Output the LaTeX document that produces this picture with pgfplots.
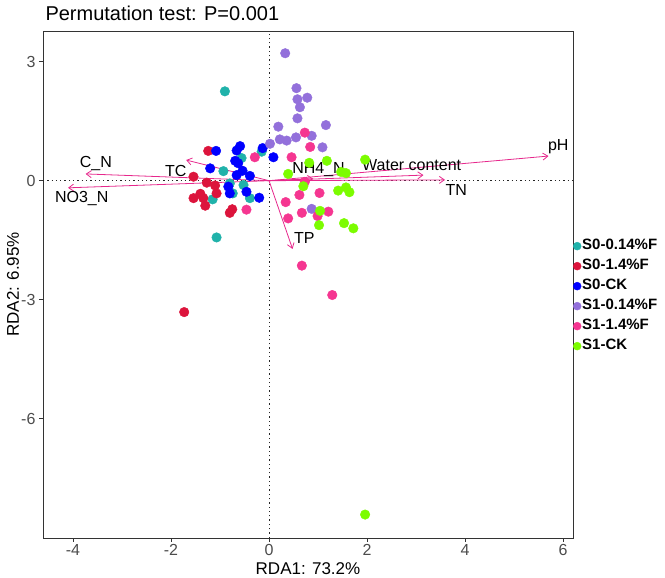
\documentclass[border=0pt]{standalone}
\usepackage{pgfplots}
\pgfplotsset{compat=1.18}
\usepackage{fontspec}
\setmainfont{Liberation Sans}
\usetikzlibrary{arrows.meta}
\definecolor{cteal}{RGB}{32,178,170}
\definecolor{cred}{RGB}{220,20,60}
\definecolor{cblue}{RGB}{0,0,255}
\definecolor{cpurple}{RGB}{147,112,219}
\definecolor{cpink}{RGB}{245,54,145}
\definecolor{cgreen}{RGB}{124,252,0}
\definecolor{carrow}{RGB}{230,40,140}
\begin{document}
\begin{tikzpicture}[x=1pt,y=1pt]
\path[use as bounding box] (0,0) rectangle (665,578);
\node[anchor=base west, font=\fontsize{20}{20}\selectfont] at (42,557) {Permutation test: P=0.001};
\begin{axis}[
  at={(43pt,40pt)}, anchor=south west,
  scale only axis, width=530pt, height=507pt,
  xmin=-4.61, xmax=6.2, ymin=-9.0, ymax=3.77,
  xtick={-4,-2,0,2,4,6}, ytick={-6,-3,0,3},
  tick align=outside, tick pos=left, major tick length=4pt,
  tick style={color=black!80, line width=0.8pt},
  axis line style={black!80, line width=0.8pt},
  ticklabel style={font=\fontsize{16}{16}\selectfont, text=black!70},
  xticklabel style={yshift=1.5pt},
  /pgf/number format/assume math mode=true,
  xlabel={RDA1: 73.2\%}, ylabel={RDA2: 6.95\%},
  label style={font=\fontsize{17}{17}\selectfont},
  xlabel style={at={(axis description cs:0.5,0)}, anchor=center, yshift=-30.5pt},
  ylabel style={at={(axis description cs:0,0.5)}, anchor=center, yshift=30pt},
  legend style={at={(axis description cs:1,0.477)}, anchor=west, draw=none, fill=none,
    font=\bfseries\fontsize{15}{15}\selectfont, row sep=4.5pt, inner sep=0pt,
    nodes={inner sep=1pt, text height=10.5pt, text depth=3pt}},
  legend cell align=left,
  legend image code/.code={\draw[#1, mark size=4pt] plot coordinates {(0pt,0pt)};},
  clip=true,
]
\addplot[forget plot, black!85, line width=0.9pt, dash pattern=on 1.3pt off 3pt] coordinates {(0,-9.0) (0,3.77)};
\addplot[forget plot, black!85, line width=0.9pt, dash pattern=on 1.3pt off 3pt] coordinates {(-4.61,0) (6.2,0)};
% S0-0.14%F
\addplot[only marks, mark=*, mark size=4.8pt, cteal, mark options={draw=cteal, fill=cteal}] coordinates {
(-0.90,2.25) (-0.56,0.57) (-0.15,0.73) (-0.93,0.24) (-0.80,-0.07) (-0.52,-0.11)
(-0.74,-0.32) (-0.39,-0.44) (-1.15,-0.47) (-1.07,-1.43)};
\addlegendentry{S0-0.14\%F}
% S0-1.4%F
\addplot[only marks, mark=*, mark size=4.8pt, cred, mark options={draw=cred, fill=cred}] coordinates {
(-1.24,0.75) (-1.54,0.10) (-1.27,-0.05) (-1.10,-0.12) (-1.07,-0.32) (-1.54,-0.44)
(-1.34,-0.44) (-1.40,-0.33) (-1.30,-0.63) (-0.80,-0.81) (-0.75,-0.72) (-1.73,-3.31)};
\addlegendentry{S0-1.4\%F}
% S0-CK
\addplot[only marks, mark=*, mark size=4.8pt, cblue, mark options={draw=cblue, fill=cblue}] coordinates {
(-1.08,0.75) (-0.59,0.87) (-0.66,0.76) (-0.69,0.50) (-0.63,0.44) (-0.13,0.82)
(0.09,0.59) (-1.20,0.31) (-0.54,0.25) (-0.39,0.12) (-0.66,0.14) (-0.83,-0.15)
(-0.80,-0.32) (-0.46,-0.28) (-0.20,-0.43)};
\addlegendentry{S0-CK}
% S1-0.14%F
\addplot[only marks, mark=*, mark size=4.8pt, cpurple, mark options={draw=cpurple, fill=cpurple}] coordinates {
(0.33,3.21) (0.56,2.33) (0.58,2.05) (0.78,2.09) (0.63,1.85) (0.58,1.57) (0.19,1.36)
(1.16,1.40) (0.22,1.04) (0.36,1.01) (0.55,1.09) (0.87,1.13) (1.09,0.84) (0.02,0.93)
(0.87,-0.71)};
\addlegendentry{S1-0.14\%F}
% S1-1.4%F
\addplot[only marks, mark=*, mark size=4.8pt, cpink, mark options={draw=cpink, fill=cpink}] coordinates {
(-0.29,0.59) (0.73,1.21) (0.84,0.85) (0.46,0.59) (0.73,-0.03) (0.62,-0.36)
(1.03,-0.31) (0.34,-0.54) (1.21,-0.78) (0.67,-0.81) (0.39,-0.95) (0.99,-0.89)
(0.67,-2.14) (1.29,-2.88) (-0.46,-0.73)};
\addlegendentry{S1-1.4\%F}
% S1-CK
\addplot[only marks, mark=*, mark size=4.8pt, cgreen, mark options={draw=cgreen, fill=cgreen}] coordinates {
(1.18,0.50) (0.82,0.45) (0.39,0.17) (1.47,0.22) (1.57,0.19) (0.70,-0.14)
(1.41,-0.25) (1.57,-0.17) (1.64,-0.29) (1.04,-0.76) (1.02,-1.12) (1.53,-1.07)
(1.72,-1.20) (1.96,-8.41) (1.96,0.53)};
\addlegendentry{S1-CK}
% arrows
\pgfplotsset{every axis plot/.append style={forget plot}}
\addplot[carrow, line width=0.8pt, -{Straight Barb[length=5pt,width=7pt]}] coordinates {(0,0) (-3.74,0.17)};
\addplot[carrow, line width=0.8pt, -{Straight Barb[length=5pt,width=7pt]}] coordinates {(0,0) (-4.10,-0.18)};
\addplot[carrow, line width=0.8pt, -{Straight Barb[length=5pt,width=7pt]}] coordinates {(0,0) (-1.69,0.52)};
\addplot[carrow, line width=0.8pt, -{Straight Barb[length=5pt,width=7pt]}] coordinates {(0,0) (0.48,-1.72)};
\addplot[carrow, line width=0.8pt, -{Straight Barb[length=5pt,width=7pt]}] coordinates {(0,0) (5.70,0.62)};
\addplot[carrow, line width=0.8pt, -{Straight Barb[length=5pt,width=7pt]}] coordinates {(0,0) (3.15,0.14)};
\addplot[carrow, line width=0.8pt, -{Straight Barb[length=5pt,width=7pt]}] coordinates {(0,0) (3.59,0.02)};
\addplot[carrow, line width=0.8pt, -{Straight Barb[length=5pt,width=7pt]}] coordinates {(0,0) (0.90,0.05)};
\begin{scope}[every node/.style={font=\fontsize{16}{16}\selectfont, text=black, inner sep=0pt}]
\node at (axis cs:-3.53,0.42) {C\_N};
\node at (axis cs:-3.82,-0.46) {NO3\_N};
\node at (axis cs:-1.90,0.25) {TC};
\node at (axis cs:0.72,-1.45) {TP};
\node at (axis cs:5.90,0.86) {pH};
\node at (axis cs:2.91,0.40) {Water content};
\node at (axis cs:3.82,-0.23) {TN};
\node at (axis cs:1.01,0.27) {NH4\_N};
\end{scope}
\end{axis}
\end{tikzpicture}
\end{document}
